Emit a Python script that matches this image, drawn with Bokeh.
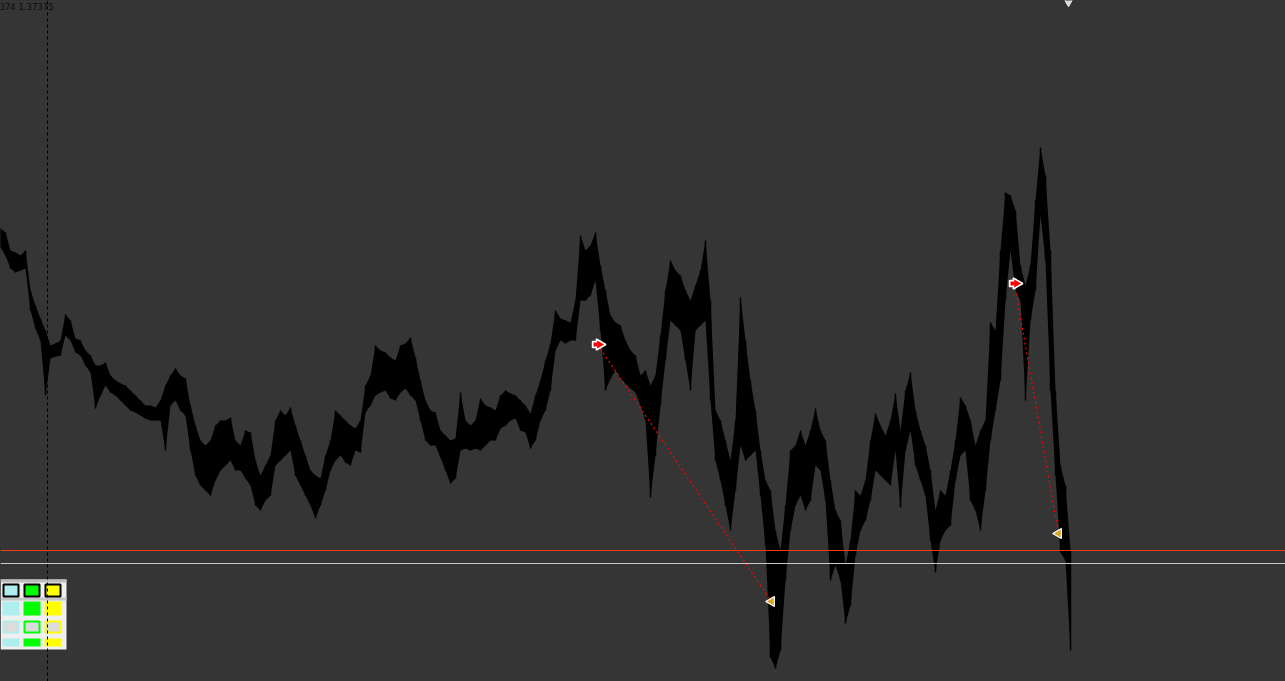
import math
from bokeh.plotting import figure
from bokeh.models import Span, Range1d
from bokeh.core.properties import value
from bokeh.embed import file_html
from bokeh.resources import INLINE

# ---- price series (bar index = screen column, price in chart units; y grows downward) ----
bar_x = list(range(0, 1075, 5))
bar_high = [228, 232, 250, 252, 255, 250, 290, 305, 318, 330, 345, 343, 340, 314, 320, 338, 340, 350, 355, 365,
            365, 362, 375, 380, 383, 385, 390, 395, 400, 405, 405, 407, 400, 385, 375, 368, 375, 378, 405, 425,
            440, 445, 440, 425, 420, 420, 417, 440, 445, 430, 432, 460, 475, 465, 455, 420, 410, 415, 407, 425,
            440, 455, 470, 475, 478, 455, 440, 410, 415, 420, 425, 428, 420, 385, 375, 345, 350, 352, 357, 360,
            345, 343, 337, 357, 380, 400, 410, 412, 430, 435, 440, 438, 392, 420, 425, 420, 398, 405, 407, 410,
            395, 390, 393, 395, 400, 405, 413, 395, 380, 360, 343, 310, 318, 320, 322, 300, 235, 250, 245, 232,
            265, 290, 315, 322, 325, 340, 350, 355, 375, 370, 385, 375, 335, 290, 260, 270, 275, 290, 300, 285,
            270, 240, 300, 410, 420, 440, 460, 420, 297, 340, 380, 410, 450, 480, 490, 530, 550, 505, 450, 445,
            430, 445, 430, 408, 430, 440, 480, 510, 520, 565, 540, 490, 495, 480, 440, 413, 425, 435, 420, 393,
            430, 390, 372, 410, 430, 445, 470, 510, 490, 495, 470, 440, 397, 405, 420, 445, 430, 420, 322, 330,
            250, 192, 195, 210, 265, 285, 265, 200, 147, 175, 250, 390, 465, 485, 550]
bar_low = [247, 255, 268, 272, 270, 268, 310, 328, 340, 395, 358, 356, 355, 335, 340, 352, 355, 365, 372, 408,
           395, 385, 392, 395, 400, 405, 410, 412, 415, 418, 420, 420, 420, 450, 405, 400, 410, 415, 450, 475,
           485, 490, 495, 480, 470, 465, 460, 470, 470, 478, 485, 505, 510, 500, 495, 465, 460, 455, 450, 475,
           485, 495, 505, 518, 505, 490, 470, 460, 455, 462, 465, 450, 452, 412, 405, 395, 392, 390, 398, 400,
           392, 388, 395, 400, 420, 440, 445, 445, 457, 470, 483, 478, 450, 448, 450, 448, 450, 445, 440, 440,
           428, 425, 420, 418, 430, 432, 448, 440, 420, 410, 390, 350, 340, 343, 340, 340, 300, 300, 295, 280,
           330, 390, 378, 370, 378, 383, 388, 392, 405, 420, 497, 455, 405, 360, 320, 325, 330, 360, 390, 330,
           325, 320, 400, 460, 480, 505, 530, 490, 445, 460, 455, 450, 495, 545, 657, 668, 650, 580, 530, 505,
           495, 510, 500, 465, 470, 500, 580, 565, 580, 623, 605, 555, 530, 520, 500, 470, 475, 480, 485, 450,
           507, 450, 430, 465, 480, 495, 540, 572, 540, 530, 525, 480, 455, 450, 500, 510, 530, 490, 440, 410,
           380, 300, 250, 290, 300, 400, 320, 290, 215, 260, 390, 475, 552, 560, 650]

# ---- trade signals ----
entry_x = [597, 1014]
entry_y = [344, 283]
exit_x = [771, 1058]
exit_y = [601, 533]

# ---- horizontal levels / markers ----
level_red = 550
level_gray = 563
vline_x = 47
top_marker_x = [1068]
top_marker_y = [1]
price_label = "374 1.37375"

# ---- colour panel (bottom-left) ----
panel_colors = ["#afeeee", "#00ff00", "#ffff00"]

BG = "#353535"
W, H = 1285, 681

p = figure(width=W, height=H, output_backend="svg", toolbar_location=None,
           x_range=Range1d(0, W), y_range=Range1d(H, 0),
           background_fill_color=BG, border_fill_color=BG,
           outline_line_color=None, outline_line_alpha=0, min_border=0)
p.axis.visible = False
p.grid.visible = False

# price band
p.varea(x=bar_x, y1=bar_high, y2=bar_low, fill_color="#000000")
p.segment(x0=bar_x, y0=bar_high, x1=bar_x, y1=bar_low, line_color="#000000", line_width=1.5)

# vertical dashed period separator
p.add_layout(Span(location=vline_x, dimension="height", line_color="#000000",
                  line_dash="3 3", line_width=1))
# levels
p.add_layout(Span(location=level_red, dimension="width", line_color="#f03c14", line_width=1))
p.add_layout(Span(location=level_gray, dimension="width", line_color="#c8c8c8", line_width=1))

# trade lines
p.segment(x0=entry_x, y0=entry_y, x1=exit_x, y1=exit_y, line_color="#ff0000",
          line_dash="2 3", line_width=1.2)

# entry arrows: white outline shapes, then red arrow on top
p.scatter(x=[x - 2 for x in entry_x], y=entry_y, marker="square", size=6,
          fill_color="#ffffff", line_color="#ffffff", line_width=1.5)
p.scatter(x=[x + 2 for x in entry_x], y=entry_y, marker="triangle", angle=-math.pi / 2,
          size=11, fill_color="#ffffff", line_color="#ffffff", line_width=1.5)
p.scatter(x=[x - 2 for x in entry_x], y=entry_y, marker="square", size=4,
          fill_color="#ff0000", line_color=None)
p.scatter(x=[x + 2 for x in entry_x], y=entry_y, marker="triangle", angle=-math.pi / 2,
          size=8, fill_color="#ff0000", line_color=None)
# exit markers
p.scatter(x=exit_x, y=exit_y, marker="triangle", angle=math.pi / 2, size=10,
          fill_color="#daa520", line_color="#ffffff", line_width=1.2)
# top marker
p.scatter(x=top_marker_x, y=top_marker_y, marker="inverted_triangle", size=9,
          fill_color="#d8d8d8", line_color="#f0f0f0", line_width=1)

# price label
p.text(x=[-1], y=[6], text=[price_label], text_font=value("DejaVu Sans"),
       text_font_size="8.5px", text_color="#0a0a0a", text_baseline="middle", text_align="left")

# colour panel
px0, px1, py0, py1 = 0, 66, 579, 649
p.quad(left=[px0], right=[px1], top=[py0], bottom=[py1], fill_color="#efefef", line_color=None)
p.quad(left=[px0], right=[px1], top=[py0], bottom=[py0 + 3], fill_color="#bdbdbd", line_color=None)
p.quad(left=[px0], right=[px1], top=[597], bottom=[600], fill_color="#c6c6c6", line_color=None)
cell_l = [2, 23, 44]
cell_r = [c + 17 for c in cell_l]
# row 1: black outlined, coloured fill
p.quad(left=[c + 1 for c in cell_l], right=[c - 1 for c in cell_r], top=[584] * 3, bottom=[596] * 3,
       fill_color=panel_colors, line_color="#000000", line_width=2)
# row 2: solid
p.quad(left=cell_l, right=cell_r, top=[601] * 3, bottom=[615] * 3,
       fill_color=panel_colors, line_color=None)
# row 3: coloured outline, grey fill
p.quad(left=[c + 1 for c in cell_l], right=[c - 1 for c in cell_r], top=[621] * 3, bottom=[632] * 3,
       fill_color="#dcdcdc", line_color=panel_colors, line_width=2)
# row 4: solid thin
p.quad(left=cell_l, right=cell_r, top=[638] * 3, bottom=[646] * 3,
       fill_color=panel_colors, line_color=None)

html = file_html(p, INLINE)
html = html.replace("</head>",
                    "<style>html,body{margin:0;padding:0;border:0;background:#353535;overflow:hidden;}</style></head>", 1)
open("out.html", "w").write(html)
